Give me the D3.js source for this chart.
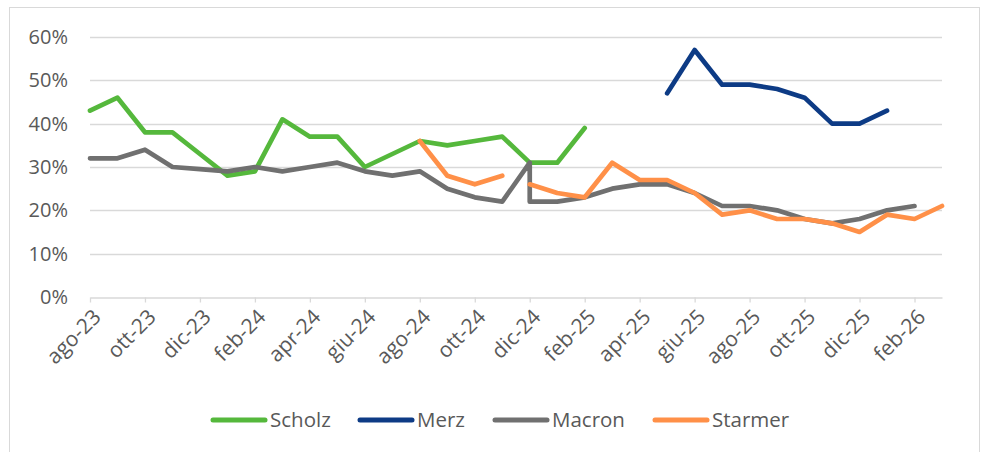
<!DOCTYPE html>
<html>
<head>
<meta charset="utf-8">
<script src="https://cdn.jsdelivr.net/npm/d3@7"></script>
<style>
  body { margin: 0; background: #fff; }
  svg { display: block; font-family: "Open Sans", "Noto Sans", sans-serif; }
</style>
</head>
<body>
<div id="chart"></div>
<script>
// one row per month (dic-24 appears twice in the source data)
var months = ["2023-08","2023-09","2023-10","2023-11","2023-12","2024-01","2024-02","2024-03",
  "2024-04","2024-05","2024-06","2024-07","2024-08","2024-09","2024-10","2024-11","2024-12","2024-12",
  "2025-01","2025-02","2025-03","2025-04","2025-05","2025-06","2025-07","2025-08","2025-09","2025-10",
  "2025-11","2025-12","2026-01","2026-02","2026-03"];

var scholz  = [43,46,38,38,33,28,29,41,37,37,30,33,36,35,36,37,31,31,31,39,null,null,null,null,null,null,null,null,null,null,null,null,null];
var merz    = [null,null,null,null,null,null,null,null,null,null,null,null,null,null,null,null,null,null,null,null,null,null,47,57,49,49,48,46,40,40,43,null,null];
var macron  = [32,32,34,30,29.5,29,30,29,30,31,29,28,29,25,23,22,31,22,22,23,25,26,26,24,21,21,20,18,17,18,20,21,null];
var starmer = [null,null,null,null,null,null,null,null,null,null,null,null,36,28,26,28,null,26,24,23,31,27,27,24,19,20,18,18,17,15,19,18,21];

var seriesNames = ["Scholz","Merz","Macron","Starmer"];
var seriesColors = ["#55b83c","#0d3b85","#707070","#ff9048"];
var yTicks = [0,10,20,30,40,50,60];
var monthNames = ["gen","feb","mar","apr","mag","giu","lug","ago","set","ott","nov","dic"];

var width = 981, height = 452;

function monthIndex(s) {
  var p = s.split("-");
  return (+p[0] - 2023) * 12 + (+p[1] - 8);
}

var svg = d3.select("#chart").append("svg")
  .attr("width", width)
  .attr("height", height);

svg.append("rect")
  .attr("x", 9.5).attr("y", 7.5)
  .attr("width", 970).attr("height", 460)
  .attr("fill", "#fff")
  .attr("stroke", "#d9d9d9");

var x = d3.scaleLinear()
  .domain([0, monthIndex(months[months.length - 1])])
  .range([90, 942]);

var y = d3.scaleLinear()
  .domain([0, 60])
  .range([297, 37]);

// gridlines
svg.append("g").selectAll("line").data(yTicks.slice(1)).enter().append("line")
  .attr("x1", x(0)).attr("x2", x.range()[1])
  .attr("y1", function (d) { return Math.round(y(d)) + 0.5; })
  .attr("y2", function (d) { return Math.round(y(d)) + 0.5; })
  .attr("stroke", "#d9d9d9").attr("stroke-width", 1.3);

// y labels
svg.append("g").selectAll("text").data(yTicks).enter().append("text")
  .attr("x", 68).attr("y", function (d) { return y(d); })
  .attr("dy", "0.35em")
  .attr("text-anchor", "end")
  .attr("fill", "#595959")
  .style("font-size", "20px")
  .text(function (d) { return d + "%"; });

// x axis
var tickIdx = d3.range(0, 31, 2);
var xAxis = d3.axisBottom(x).tickValues(tickIdx).tickSize(5).tickSizeOuter(0).tickFormat("");
var gx = svg.append("g").attr("transform", "translate(0," + (Math.round(y(0)) + 0.5) + ")").call(xAxis);
gx.select(".domain").attr("stroke", "#d9d9d9").attr("stroke-width", 1.3);
gx.selectAll(".tick line").attr("stroke", "#d9d9d9").attr("stroke-width", 1.3);

svg.append("g").selectAll("text").data(tickIdx).enter().append("text")
  .attr("transform", function (d) { return "translate(" + (x(d) + 7) + "," + 313 + ") rotate(-45)"; })
  .attr("text-anchor", "end")
  .attr("dy", "0.35em")
  .attr("fill", "#595959")
  .style("font-size", "21px")
  .text(function (d) {
    var m = (7 + d) % 12, yr = 23 + Math.floor((7 + d) / 12);
    return monthNames[m] + "-" + yr;
  });

// lines
var allSeries = [scholz, merz, macron, starmer];
var line = d3.line()
  .defined(function (d) { return d.v !== null; })
  .x(function (d) { return x(d.i); })
  .y(function (d) { return y(d.v); });

allSeries.forEach(function (vals, k) {
  var pts = months.map(function (m, j) { return {i: monthIndex(m), v: vals[j]}; });
  svg.append("path")
    .datum(pts)
    .attr("d", line)
    .attr("fill", "none")
    .attr("stroke", seriesColors[k])
    .attr("stroke-width", 4.7)
    .attr("stroke-linejoin", "round")
    .attr("stroke-linecap", "round");
});

// legend
var legendX = [211, 358, 493, 653];
var lg = svg.append("g").selectAll("g").data(seriesNames).enter().append("g")
  .attr("transform", function (d, i) { return "translate(" + legendX[i] + ",420)"; });
lg.append("line")
  .attr("x1", 2).attr("x2", 54).attr("y1", 0).attr("y2", 0)
  .attr("stroke", function (d, i) { return seriesColors[i]; })
  .attr("stroke-width", 5)
  .attr("stroke-linecap", "round");
lg.append("text")
  .attr("x", 59).attr("dy", "0.35em")
  .attr("fill", "#595959")
  .style("font-size", "20.5px")
  .text(function (d) { return d; });
</script>
</body>
</html>
